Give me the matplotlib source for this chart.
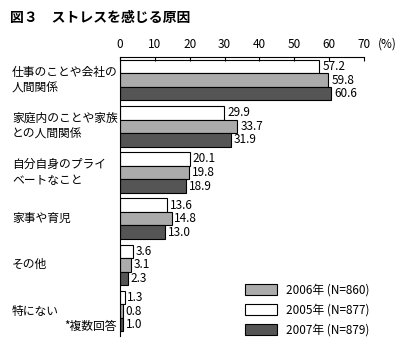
import numpy as np
import matplotlib
matplotlib.use('Agg')
import matplotlib.pyplot as plt
from matplotlib.patches import Patch
from matplotlib.transforms import blended_transform_factory

plt.rcParams['font.family'] = ['Noto Sans CJK JP', 'DejaVu Sans']

categories = ['仕事のことや会社の\n人間関係', '家庭内のことや家族\nとの人間関係',
              '自分自身のプライ\nベートなこと', '家事や育児', 'その他', '特にない']
y2005 = [57.2, 29.9, 20.1, 13.6, 3.6, 1.3]
y2006 = [59.8, 33.7, 19.8, 14.8, 3.1, 0.8]
y2007 = [60.6, 31.9, 18.9, 13.0, 2.3, 1.0]
xticks = [0, 10, 20, 30, 40, 50, 60, 70]

c2005 = 'white'
c2006 = '#ababab'
c2007 = '#555555'

W, H = 412, 353
fig = plt.figure(figsize=(W / 100, H / 100), dpi=100)
ax = fig.add_axes([120 / W, 1 - 336 / H, 244 / W, 279 / H])

pos = np.arange(len(categories))
h = 0.293
fs = 8.5
for vals, off, col in [(y2005, -h, c2005), (y2006, 0, c2006), (y2007, h, c2007)]:
    ax.barh(pos + off, vals, height=h, color=col, edgecolor='black', linewidth=0.8)
    for p, v in zip(pos, vals):
        ax.text(v + 0.8, p + off, '%.1f' % v, va='center', ha='left', fontsize=fs)

ax.set_xlim(0, 70)
ax.set_ylim(5.54, -0.5)
ax.xaxis.tick_top()
ax.set_xticks(xticks)
ax.tick_params(axis='x', direction='in', length=3, labelsize=fs, pad=4)
ax.set_yticks([])
ax.spines['right'].set_visible(False)
ax.spines['bottom'].set_visible(False)
ax.text(1.055, 1.022, '(%)', transform=ax.transAxes, fontsize=fs, va='bottom', ha='left')

tr = blended_transform_factory(fig.transFigure, ax.transData)
for p, c in zip(pos, categories):
    ax.text(12 / W, p, c, transform=tr, ha='left', va='center', fontsize=fs, linespacing=1.3)

fig.text(117 / W, 1 - 326 / H, '*複数回答', ha='right', va='center', fontsize=fs)
fig.text(10 / W, 1 - 18 / H, '図３　ストレスを感じる原因', ha='left', va='center',
         fontsize=10, fontweight='bold')

handles = [Patch(facecolor=c2006, edgecolor='black', linewidth=0.8),
           Patch(facecolor=c2005, edgecolor='black', linewidth=0.8),
           Patch(facecolor=c2007, edgecolor='black', linewidth=0.8)]
labels = ['2006年 (N=860)', '2005年 (N=877)', '2007年 (N=879)']
fig.legend(handles, labels, loc='upper left', bbox_to_anchor=(236 / W, 1 - 274 / H),
           frameon=False, fontsize=fs, handlelength=2.7, handleheight=1.0,
           labelspacing=0.6, handletextpad=0.7, borderpad=0.3)

fig.savefig('out.png', dpi=100)
